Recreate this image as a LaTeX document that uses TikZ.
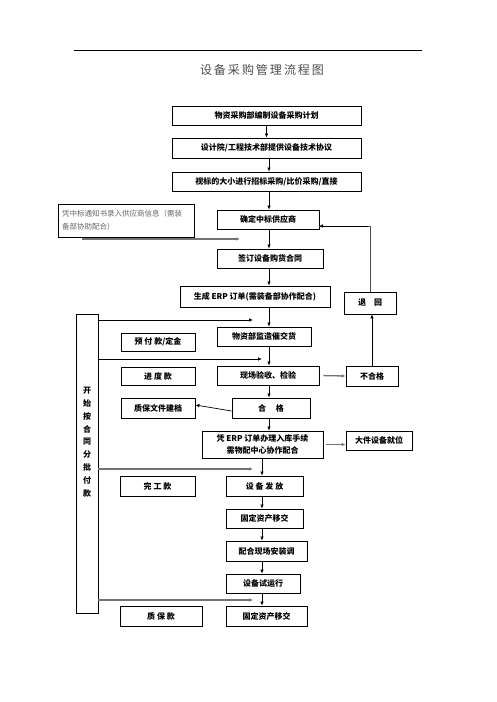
\documentclass[tikz,border=0pt]{standalone}
\usepackage{fontspec}
\setmainfont{Liberation Serif}
\newfontfamily\cjk{Noto Sans CJK SC}
\usetikzlibrary{arrows.meta}

\begin{document}
\begin{tikzpicture}[x=1pt, y=-1pt,
    box/.style={draw=black, rectangle, line width=0.8pt, inner sep=0pt,
                font=\cjk\bfseries\fontsize{8}{10}\selectfont},
    ar/.style={draw, line width=0.7pt, -{Latex[length=4pt,width=3.5pt]}},
    grayar/.style={draw, line width=1.3pt, black!55,
                   -{Latex[length=4pt,width=3.5pt]}},
    ]
    \useasboundingbox (0,0) rectangle (496,702);

    \draw[line width=0.6pt] (74,50) -- (422,50);
    \node[font=\cjk\fontsize{12}{14}\selectfont, text=black!70]
        (title) at (262,70) {设\,备\,采\,购\,管\,理\,流\,程\,图};

    % main column
    \node[box, minimum width=189pt, minimum height=19pt]
        (plan) at (266.5,115.5) {物资采购部编制设备采购计划};
    \node[box, minimum width=189pt, minimum height=20pt]
        (tech) at (266.5,148) {设计院/工程技术部提供设备技术协议};
    \node[box, minimum width=189pt, minimum height=19pt]
        (bid) at (266.5,181.5) {视标的大小进行招标采购/比价采购/直接};
    \node[box, line width=1pt, minimum width=136pt, minimum height=33pt,
          align=left, text width=128pt, font=\cjk\fontsize{7.5}{13}\selectfont]
        (notice) at (126,220.5)
        {\color{black!60}凭中标通知书录入供应商信息（需装\\备部协助配合）};
    \node[box, minimum width=102pt, minimum height=19pt]
        (winner) at (268,219.5) {确定中标供应商};
    \node[box, minimum width=106pt, minimum height=19pt]
        (contract) at (270,258.5) {签订设备购货合同};
    \node[box, minimum width=150pt, minimum height=21pt]
        (erp) at (255,296.5) {生成 ERP 订单(需装备部协作配合)};
    \node[box, minimum width=52pt, minimum height=22pt]
        (reject) at (370,303) {退\quad 回};

    \node[box, minimum width=94pt, minimum height=19pt]
        (supervise) at (264,336.5) {物资部监造催交货};
    \node[box, minimum width=102pt, minimum height=19pt]
        (inspect) at (268,375.5) {现场验收、检验};
    \node[box, minimum width=52pt, minimum height=20pt]
        (fail) at (372,376) {不合格};
    \node[box, minimum width=78pt, minimum height=20pt]
        (pass) at (271,408) {合\quad\ 格};
    \node[box, minimum width=121pt, minimum height=27pt, align=center,
          font=\cjk\bfseries\fontsize{8}{12}\selectfont]
        (stock) at (262.5,444.5) {凭 ERP 订单办理入库手续\\需物配中心协作配合};
    \node[box, minimum width=66pt, minimum height=19pt]
        (bigitem) at (379,440.5) {大件设备就位};
    \node[box, minimum width=77pt, minimum height=20pt]
        (release) at (264.5,486) {设\ 备\ 发\ 放};
    \node[box, minimum width=77pt, minimum height=19pt]
        (asset) at (264.5,518.5) {固定资产移交};
    \node[box, minimum width=81pt, minimum height=20pt]
        (install) at (266.5,551) {配合现场安装调};
    \node[box, minimum width=74pt, minimum height=19pt]
        (trial) at (263,583.5) {设备试运行};
    \node[box, minimum width=81pt, minimum height=20pt]
        (handover) at (266.5,616) {固定资产移交};

    % payment column
    \node[box, minimum width=22pt, minimum height=299pt]
        (pay) at (87,463.5) {};
    \node[font=\cjk\bfseries\fontsize{8}{12.8}\selectfont, align=center]
        (paytext) at (87,442) {开\\始\\按\\合\\同\\分\\批\\付\\款};
    \node[box, minimum width=74pt, minimum height=18pt]
        (prepay) at (158,342) {预\ 付\ 款/定金};
    \node[box, minimum width=74pt, minimum height=18pt]
        (progress) at (158,376) {进\ 度\ 款};
    \node[box, minimum width=74pt, minimum height=20pt]
        (archive) at (158,408) {质保文件建档};
    \node[box, minimum width=75pt, minimum height=20pt]
        (complete) at (157.5,486) {完\ 工\ 款};
    \node[box, minimum width=82pt, minimum height=20pt]
        (warranty) at (161,616) {质\ 保\ 款};

    \coordinate (colA) at (269,0);
    \coordinate (colB) at (262,0);
    \coordinate (n0) at (82,239);
    \coordinate (n1) at (240,239);
    \coordinate (back) at (319,226);
    \coordinate (in1) at (253,320);
    \coordinate (in2) at (262,359);
    \coordinate (in3) at (253,469);
    \coordinate (in4) at (253,600);

    \path[ar] (plan.south) -- (plan.south |- tech.north);
    \path[ar] (tech.south -| colA) -- (bid.north -| colA);
    \path[ar] (bid.south -| colA) -- (winner.north -| colA);
    \path[ar] (winner.south -| colA) -- (contract.north -| colA);
    \path[ar] (contract.south -| colA) -- (erp.north -| colA);
    \path[ar] (erp.south -| colA) -- (supervise.north -| colA);
    \path[ar] (supervise.south -| colA) -- (inspect.north -| colA);
    \path[ar] (inspect.south -| colA) -- (pass.north -| colA);
    \path[ar] (pass.south -| colA) -- (stock.north -| colA);
    \path[ar] (stock.south -| colB) -- (release.north -| colB);
    \path[ar] (release.south -| colB) -- (asset.north -| colB);
    \path[ar] (asset.south -| colB) -- (install.north -| colB);
    \path[ar] (install.south -| colB) -- (trial.north -| colB);
    \path[ar] (trial.south -| colB) -- (handover.north -| colB);

    \path[grayar] (n0) -- (n1);
    \path[draw, line width=0.9pt, black!70] (reject.north) |- (back);
    \path[ar] (reject.north |- back) ++(-2,0) -- (back);
    \path[ar] (fail.north) -- (fail.north |- reject.south);
    \path[grayar, shorten <=4pt] (inspect.east) -- (fail.west);
    \path[grayar, shorten <=3pt] (stock.east) -- (stock.east -| bigitem.west);
    \path[ar] (pass.west |- archive.east) ++(0,3) -- ([yshift=3pt]archive.east);

    \path[ar] (pay.east |- in1) -- (in1);
    \path[ar] (pay.east |- in2) -- (in2);
    \path[grayar] (pay.east |- in3) -- (in3);
    \path[grayar] (pay.east |- in4) -- (in4);
  \end{tikzpicture}
\end{document}
